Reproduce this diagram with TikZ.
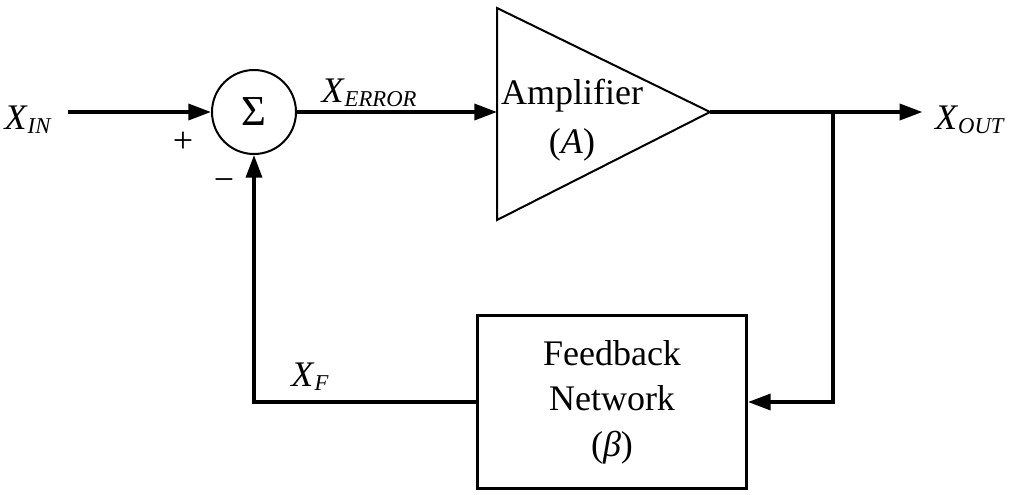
\documentclass[tikz,border=0pt]{standalone}
\usepackage{fontspec}
\setmainfont{Liberation Serif}
\usetikzlibrary{arrows.meta}
\newcommand{\sig}[2]{\textit{#1}\raisebox{-3pt}{\fontsize{17}{17}\selectfont\textit{#2}}}
\begin{document}
\begin{tikzpicture}[x=0.75pt,y=0.75pt,yscale=-1,xscale=1,
        font=\fontsize{27}{34}\selectfont,
        wire/.style={line width=2.6pt},
        flow/.style={wire,-{Triangle[length=17pt,width=12pt]}}]
        \useasboundingbox (0,0) rectangle (1017,494);
        \draw (28,120) node (xin) {\sig{X}{IN}};
        \draw (254,112) node (sum) [circle,draw,line width=1.5pt,minimum size=63pt,inner sep=0pt] {\fontsize{32}{32}\selectfont Σ};
        \draw (183,142) node (plus) {+};
        \draw (224,185) node (minus) {−};
        \draw (369,93) node (xerr) {\sig{X}{ERROR}};
        % amplifier
        \coordinate (ampin) at (497,112);
        \coordinate (ampout) at (710,112);
        \draw [line width=1.5pt] (497,8) -- (ampout) -- (497,220) -- cycle;
        \draw (572,120) node (amp) [align=center,font=\fontsize{27}{37}\selectfont] {Amplifier\\(\textit{A})};
        \draw (970,120) node (xout) {\sig{X}{OUT}};
        \coordinate (tap) at (833,112);
        % feedback
        \draw (612,402) node (fb) [draw,line width=2pt,minimum width=202pt,minimum height=130pt,align=center] {Feedback\\Network\\(\textit{β})};
        \draw (310,377) node (xf) {\sig{X}{F}};
        \draw [flow] ([xshift=9pt]xin.east |- sum.west) -- (sum.west);
        \draw [flow] (sum.east) -- (ampin);
        \draw [flow] (ampout) -- ([xshift=-6pt]xout.west |- ampout);
        \draw [flow] (tap) |- (fb.east);
        \draw [flow] (fb.west) -| (sum.south);
\end{tikzpicture}
\end{document}
